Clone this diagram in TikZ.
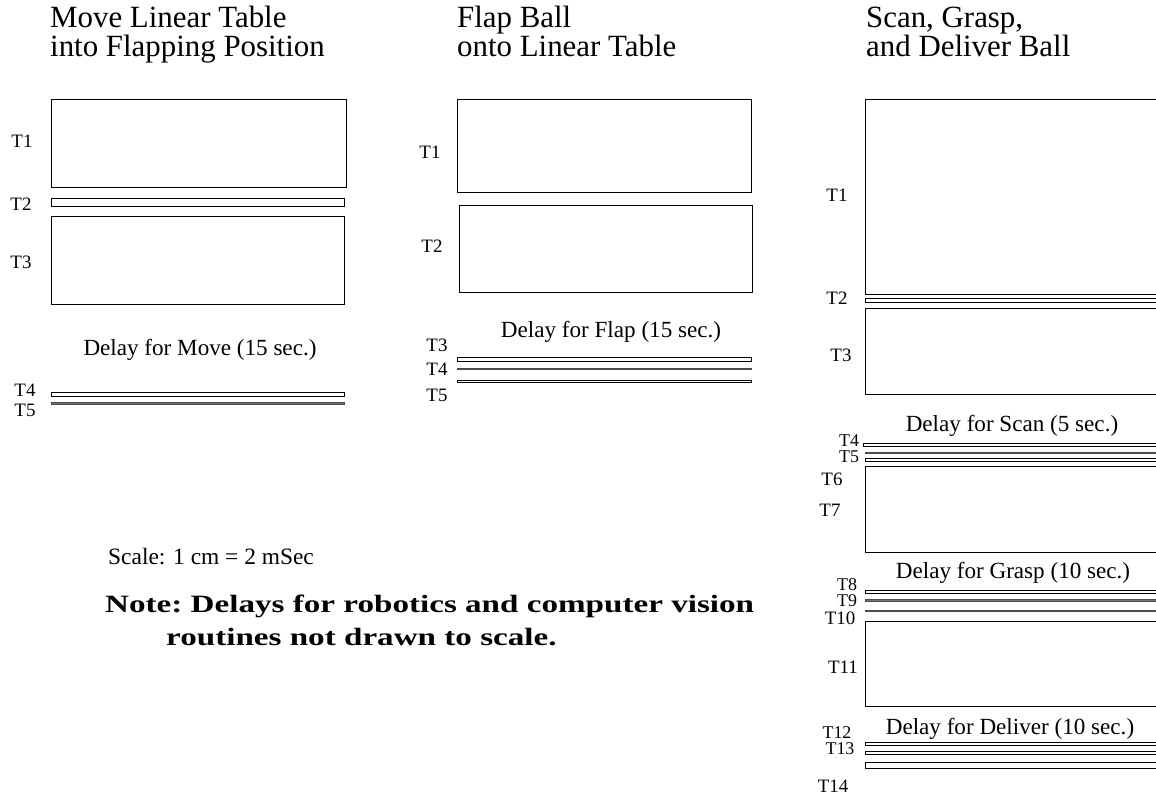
\documentclass[tikz,border=0pt]{standalone}
\usepackage{fontspec}
\setmainfont{Liberation Serif}
\newfontfamily\notefont[FakeStretch=1.33]{Liberation Serif}
\begin{document}
\begin{tikzpicture}[x=1bp,y=-1bp,
  box/.style={draw=black,line width=0.9bp},
  bar/.style={draw=black,line width=0.8bp,fill=white},
  flat/.style={draw=black!70,line width=0.8bp,fill=black!55},
  lbl/.style={inner sep=0pt,font=\fontsize{19}{22}\selectfont},
  slbl/.style={inner sep=0pt,font=\fontsize{18}{20}\selectfont},
  title/.style={inner sep=0pt,anchor=base west,font=\fontsize{31}{36}\selectfont},
  delay/.style={inner sep=0pt,font=\fontsize{23.2}{26}\selectfont},
  note/.style={inner sep=0pt,anchor=base west,font=\notefont\bfseries\fontsize{25}{30}\selectfont}]
\useasboundingbox (0,0) rectangle (1156,794);
\clip (0,0) rectangle (1156,794);

% ---------- Column 1 ----------
\node[title] (c1a) at (50,28) {Move Linear Table};
\node[title] (c1b) at (50,57) {into Flapping Position};
\draw[box] (51,99) rectangle (346,187);
\draw[bar] (51,198) rectangle (344,206);
\draw[box] (51,216) rectangle (344,304);
\draw[bar] (51,392) rectangle (344,396);
\draw[flat] (51,402.3) rectangle (344,403.9);
\node[lbl] (a1) at (22,141) {T1};
\node[lbl] (a2) at (21,204) {T2};
\node[lbl] (a3) at (21,262) {T3};
\node[lbl] (a4) at (25,390) {T4};
\node[lbl] (a5) at (25,410) {T5};
\node[delay] (d1) at (200,350) {Delay for Move (15 sec.)};

% ---------- Column 2 ----------
\node[title] (c2a) at (457,28) {Flap Ball};
\node[title] (c2b) at (457,57) {onto Linear Table};
\draw[box] (457,99) rectangle (751,192);
\draw[box] (459,205) rectangle (752,292);
\draw[bar] (457,357) rectangle (751,361);
\draw[flat] (457,368.2) rectangle (751,369.8);
\draw[bar] (457,380) rectangle (751,382);
\node[lbl] (b1) at (430,152) {T1};
\node[lbl] (b2) at (432,246) {T2};
\node[lbl] (b3) at (437,345) {T3};
\node[lbl] (b4) at (437,369) {T4};
\node[lbl] (b5) at (437,395) {T5};
\node[delay] (d2) at (611,332) {Delay for Flap (15 sec.)};

% ---------- Column 3 ----------
\node[title] (c3a) at (866,28) {Scan, Grasp,};
\node[title] (c3b) at (866,57) {and Deliver Ball};
\draw[box] (865,99) rectangle (1180,294);
\draw[bar] (865,298) rectangle (1180,302);
\draw[box] (865,308) rectangle (1180,394);
\draw[bar] (863,443) rectangle (1180,446);
\draw[flat] (865,452.2) rectangle (1180,453.8);
\draw[bar] (865,458) rectangle (1180,461);
\draw[box] (865,466) rectangle (1180,552);
\draw[bar] (865,590) rectangle (1180,593);
\draw[flat] (865,599.7) rectangle (1180,601.3);
\draw[flat] (865,610.2) rectangle (1180,611.8);
\draw[box] (865,621) rectangle (1180,706);
\draw[bar] (865,742) rectangle (1180,745);
\draw[bar] (865,751) rectangle (1180,754);
\draw[bar] (865,762) rectangle (1180,768);
\node[lbl] (e1) at (837,195) {T1};
\node[lbl] (e2) at (837,298) {T2};
\node[lbl] (e3) at (841,355) {T3};
\node[slbl] (e4) at (849,440.5) {T4};
\node[slbl] (e5) at (849,457) {T5};
\node[lbl] (e6) at (832,479) {T6};
\node[lbl] (e7) at (830,510) {T7};
\node[slbl] (e8) at (847,584.5) {T8};
\node[slbl] (e9) at (847,601) {T9};
\node[lbl] (e10) at (840,618) {T10};
\node[lbl] (e11) at (843,667) {T11};
\node[slbl] (e12) at (837,732.5) {T12};
\node[slbl] (e13) at (840,749) {T13};
\node[lbl] (e14) at (833,786) {T14};
\node[delay] (d3) at (1012,426) {Delay for Scan (5 sec.)};
\node[delay] (d4) at (1013,573) {Delay for Grasp (10 sec.)};
\node[delay] (d5) at (1010,729) {Delay for Deliver (10 sec.)};

% ---------- Notes ----------
\node[inner sep=0pt,anchor=base west,font=\fontsize{23.5}{26}\selectfont] (sc) at (108,564) {Scale: 1 cm = 2 mSec};
\node[note] (n1) at (105,612) {\frenchspacing Note: Delays for robotics and computer vision};
\node[note] (n2) at (166,645) {routines not drawn to scale.};
\end{tikzpicture}
\end{document}
